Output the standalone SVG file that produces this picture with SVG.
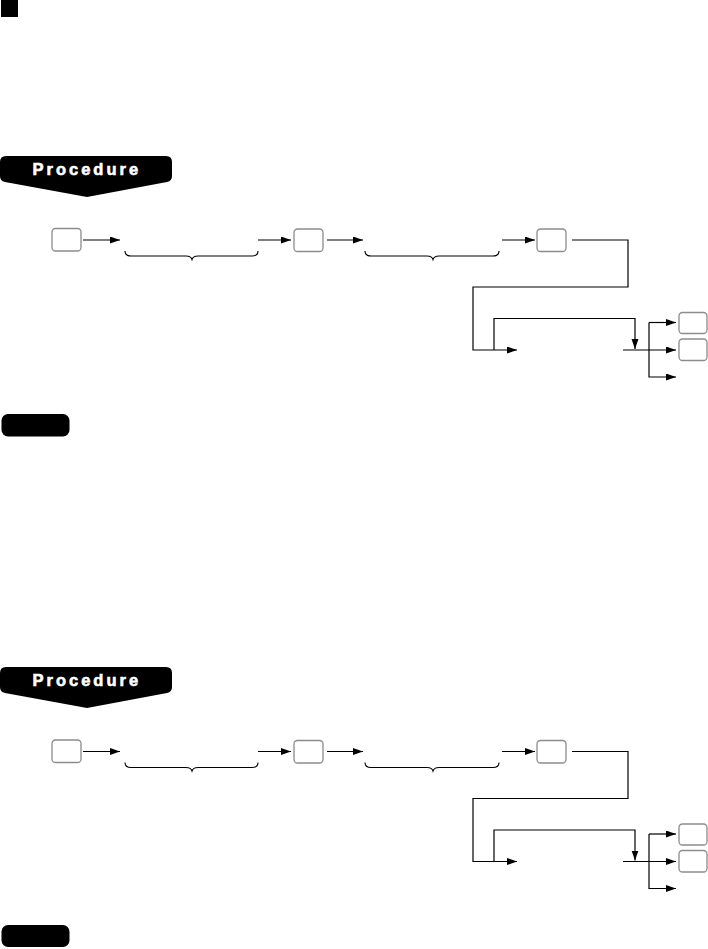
<svg xmlns="http://www.w3.org/2000/svg" width="708" height="949" viewBox="0 0 708 949">
<style>
.key{fill:#fff;stroke:#8c8c8c;stroke-width:1.3}
.ln{fill:none;stroke:#000;stroke-width:1.2}
.br{fill:none;stroke:#000;stroke-width:1.1}
.ptxt{font-family:"Liberation Sans",Arial,sans-serif;font-weight:bold;font-size:16.5px;fill:#fff;stroke:#fff;stroke-width:0.6;letter-spacing:3px}
</style>
<defs>
<marker id="ah" markerUnits="userSpaceOnUse" markerWidth="11" markerHeight="8" refX="10" refY="3.5" orient="auto">
<path d="M0,0 L10,3.5 L0,7 Z" fill="#000"/>
</marker>
<g id="flow">
<g class="ln">
<path d="M83,240 H120" marker-end="url(#ah)"/>
<path d="M258,240 H291" marker-end="url(#ah)"/>
<path d="M327,240 H363" marker-end="url(#ah)"/>
<path d="M502,240 H535" marker-end="url(#ah)"/>
<path d="M572,240 H628 V287 H473 V350 H517" marker-end="url(#ah)"/>
<path d="M494,350 V318.5 H635 V349" marker-end="url(#ah)"/>
<path d="M623,350 H676" marker-end="url(#ah)"/>
<path d="M649,322.5 V377 H676" marker-end="url(#ah)"/>
<path d="M649,322.5 H676" marker-end="url(#ah)"/>
</g>
<path class="br" d="M125,251 Q125,256 131,256 L186,256 Q191,256 192,259.5 Q193,256 198,256 L252,256 Q258,256 258,251"/>
<path class="br" d="M365,251 Q365,256 371,256 L427,256 Q432,256 433,259.5 Q434,256 439,256 L493,256 Q499,256 499,251"/>
</g>
</defs>

<rect id="bullet" x="1" y="0" width="17" height="17" fill="#000"/>

<g id="procedure1">
<path d="M6,156 H166 Q172,156 172,162 V176 Q172,181 167,182 L87,197 L5,182 Q0,181 0,176 V162 Q0,156 6,156 Z" fill="#000"/>
<text class="ptxt" x="86.8" y="175" text-anchor="middle">Procedure</text>
</g>

<g id="connectors1">
<use href="#flow"/>
</g>

<g id="keys1">
<rect id="k1a" class="key" x="52" y="228.5" width="29" height="22.5" rx="3.5"/>
<rect id="k1b" class="key" x="294" y="229" width="29" height="22.5" rx="3.5"/>
<rect id="k1c" class="key" x="537" y="229" width="29" height="22.5" rx="3.5"/>
<rect id="k1d" class="key" x="679" y="312.5" width="28" height="21" rx="3.5"/>
<rect id="k1e" class="key" x="679" y="339" width="28" height="21.5" rx="3.5"/>
</g>

<rect id="note1" x="1.5" y="414" width="68" height="22.5" rx="6.5" fill="#000"/>

<g id="procedure2">
<path d="M6,667 H166 Q172,667 172,673 V687 Q172,692 167,693 L87,708 L5,693 Q0,692 0,687 V673 Q0,667 6,667 Z" fill="#000"/>
<text class="ptxt" x="86.8" y="686" text-anchor="middle">Procedure</text>
</g>

<g id="connectors2">
<use href="#flow" transform="translate(0,511.5)"/>
</g>

<g id="keys2">
<rect id="k2a" class="key" x="52" y="740" width="29" height="22.5" rx="3.5"/>
<rect id="k2b" class="key" x="294" y="740.5" width="29" height="22.5" rx="3.5"/>
<rect id="k2c" class="key" x="537" y="740.5" width="29" height="22.5" rx="3.5"/>
<rect id="k2d" class="key" x="679" y="824" width="28" height="21" rx="3.5"/>
<rect id="k2e" class="key" x="679" y="850.5" width="28" height="21.5" rx="3.5"/>
</g>

<rect id="note2" x="1.5" y="925" width="68" height="22" rx="6.5" fill="#000"/>
</svg>
